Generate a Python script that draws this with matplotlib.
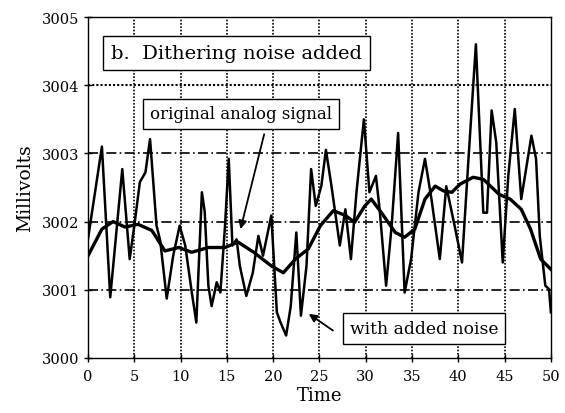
import matplotlib
matplotlib.use('Agg')
import matplotlib.pyplot as plt

# noisy (dithered) signal
t_noise = [0.0, 1.5, 2.4, 3.7, 4.5, 5.0, 5.6, 6.2, 6.7, 7.4, 7.8, 8.5, 9.2, 9.9,
           10.5, 11.2, 11.7, 12.3, 12.6, 13.0, 13.35, 13.9, 14.3, 14.8, 15.2, 15.6,
           16.05, 16.4, 17.1, 17.8, 18.4, 18.9, 19.8, 20.4, 20.8, 21.4, 21.9, 22.5,
           23.0, 23.6, 24.1, 24.6, 25.2, 25.7, 26.3, 27.2, 27.8, 28.4, 29.0, 29.8,
           30.4, 31.1, 31.5, 32.2, 32.8, 33.5, 34.2, 34.9, 35.7, 36.4, 37.1, 38.0,
           38.7, 39.6, 40.4, 41.1, 41.9, 42.7, 43.1, 43.6, 44.1, 44.8, 45.4, 46.1,
           46.8, 47.9, 48.4, 48.8, 49.4, 49.8, 50.0]
v_noise = [3001.75, 3003.10, 3000.89, 3002.77, 3001.45, 3001.94, 3002.58, 3002.72,
           3003.21, 3001.94, 3001.72, 3000.87, 3001.50, 3001.94, 3001.65, 3000.97,
           3000.52, 3002.43, 3002.15, 3001.06, 3000.76, 3001.11, 3000.96, 3001.94,
           3002.92, 3001.65, 3001.74, 3001.35, 3000.91, 3001.25, 3001.79, 3001.50,
           3002.09, 3000.67, 3000.52, 3000.33, 3000.76, 3001.84, 3000.62, 3001.35,
           3002.77, 3002.23, 3002.52, 3003.05, 3002.52, 3001.65, 3002.18, 3001.45,
           3002.43, 3003.50, 3002.43, 3002.67, 3002.18, 3001.06, 3001.94, 3003.30,
           3000.96, 3001.45, 3002.43, 3002.92, 3002.33, 3001.45, 3002.52, 3001.94,
           3001.40, 3002.92, 3004.60, 3002.13, 3002.13, 3003.63, 3003.16, 3001.40,
           3002.67, 3003.65, 3002.33, 3003.26, 3002.92, 3001.79, 3001.06, 3001.01,
           3000.67]

# original analog signal
t_orig = [0.0, 1.5, 2.7, 4.0, 5.4, 6.9, 8.3, 9.8, 11.2, 13.0, 14.8, 16.2, 17.9,
          19.8, 21.1, 22.4, 23.8, 25.1, 26.5, 27.8, 28.8, 29.9, 30.6, 31.7, 33.2,
          34.2, 35.3, 36.4, 37.5, 38.4, 39.3, 40.2, 41.6, 42.7, 44.4, 45.6, 46.8,
          47.8, 48.9, 50.0]
v_orig = [3001.50, 3001.89, 3002.00, 3001.92, 3001.96, 3001.87, 3001.57, 3001.62,
          3001.55, 3001.62, 3001.62, 3001.70, 3001.55, 3001.35, 3001.25, 3001.45,
          3001.60, 3001.94, 3002.16, 3002.09, 3001.99, 3002.23, 3002.33, 3002.13,
          3001.84, 3001.77, 3001.89, 3002.33, 3002.52, 3002.45, 3002.43, 3002.55,
          3002.65, 3002.62, 3002.40, 3002.33, 3002.18, 3001.89, 3001.45, 3001.30]

x_ticks = [0, 5, 10, 15, 20, 25, 30, 35, 40, 45, 50]
y_ticks = [3000, 3001, 3002, 3003, 3004, 3005]

plt.rcParams['font.family'] = ['DejaVu Serif']

fig = plt.figure(figsize=(5.65, 4.14), dpi=100)
ax = fig.add_axes([0.1558, 0.1329, 0.8192, 0.8236])

# grid
for x in x_ticks[1:-1]:
    ax.axvline(x, color='black', lw=1.2, ls=(0, (1, 1)), zorder=1)
for y in y_ticks[1:-1]:
    if y == 3004:
        ax.axhline(y, color='black', lw=1.5, ls=(0, (1, 1)), zorder=1)
    else:
        ax.axhline(y, color='black', lw=1.2, ls=(0, (6, 2, 1, 2)), zorder=1)

ax.plot(t_noise, v_noise, color='black', lw=1.8, zorder=3)
ax.plot(t_orig, v_orig, color='black', lw=2.4, zorder=3)

ax.set_xlim(0, 50)
ax.set_ylim(3000, 3005)
ax.set_xticks(x_ticks)
ax.set_yticks(y_ticks)
ax.tick_params(direction='inout', length=6, labelsize=10.5, width=1)
ax.tick_params(axis='x', pad=5)
ax.set_yticklabels([str(y) for y in y_ticks])
ax.set_xlabel('Time', fontsize=13, labelpad=2)
ax.set_ylabel('Millivolts', fontsize=13.5, labelpad=5)
for s in ax.spines.values():
    s.set_linewidth(1.0)

box = dict(boxstyle='square,pad=0.4', fc='white', ec='black', lw=1.0)
ax.text(2.5, 3004.47, 'b.  Dithering noise added', fontsize=14, va='center',
        ha='left', bbox=box, zorder=5)
ax.text(6.7, 3003.58, 'original analog signal', fontsize=12, va='center',
        ha='left', bbox=box, zorder=5)
ax.text(28.3, 3000.43, 'with added noise', fontsize=12.3, va='center',
        ha='left', bbox=box, zorder=5)

arrow = dict(arrowstyle='-|>', color='black', lw=1.3, mutation_scale=12)
ax.annotate('', xy=(16.4, 3001.85), xytext=(19.1, 3003.32), arrowprops=arrow, zorder=6)
ax.annotate('', xy=(23.6, 3000.67), xytext=(26.7, 3000.38), arrowprops=arrow, zorder=6)

fig.savefig('out.png', dpi=100)
